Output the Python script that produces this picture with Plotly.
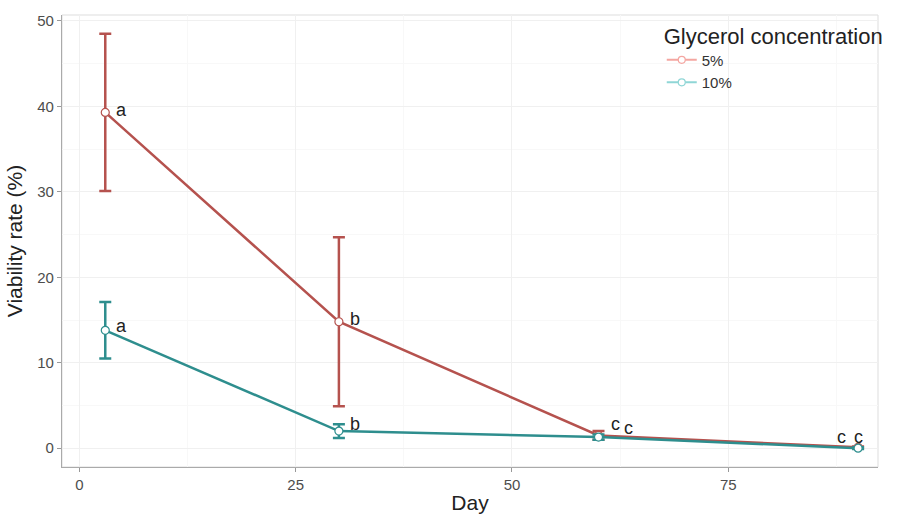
import plotly.graph_objects as go

days = [3, 30, 60, 90]
series_names = ["5%", "10%"]
viab_5 = [39.3, 14.8, 1.5, 0.1]
err_5 = [9.2, 9.9, 0.5, 0.1]
viab_10 = [13.8, 2.0, 1.3, 0.0]
err_10 = [3.3, 0.8, 0.3, 0.1]
letters_5 = ["a", "b", "c", "c"]
letters_10 = ["a", "b", "c", "c"]

col5 = "#B5524E"
col10 = "#2E8E8E"
leg5 = "#F4A6A1"
leg10 = "#8FD6D6"

fig = go.Figure()
for name, vals, errs, col in [(series_names[0], viab_5, err_5, col5), (series_names[1], viab_10, err_10, col10)]:
    fig.add_trace(go.Scatter(
        x=days, y=vals, mode="lines+markers", name=name, showlegend=False,
        line=dict(color=col, width=2.5),
        marker=dict(symbol="circle", size=8, color="white", line=dict(color=col, width=1.2)),
        error_y=dict(type="data", array=errs, visible=True, color=col, thickness=2.5, width=6),
    ))
# legend entries (lighter)
for name, col in [(series_names[0], leg5), (series_names[1], leg10)]:
    fig.add_trace(go.Scatter(
        x=[None], y=[None], mode="lines+markers", name=name,
        line=dict(color=col, width=2),
        marker=dict(symbol="circle", size=7, color="white", line=dict(color=col, width=1.2)),
    ))

shifts5 = [(16, 2), (16, 3), (17, 11), (-17, 10)]
shifts10 = [(16, 4), (16, 7), (30, 9), (0, 11)]
for vals, labs, sh in [(viab_5, letters_5, shifts5), (viab_10, letters_10, shifts10)]:
    for d, v, t, (dx, dy) in zip(days, vals, labs, sh):
        fig.add_annotation(x=d, y=v, text=t, showarrow=False, xshift=dx, yshift=dy,
                           font=dict(size=18, color="#222222", family="Liberation Sans"))

fig.update_layout(
    width=897, height=514,
    margin=dict(l=62, r=17, t=15, b=47),
    paper_bgcolor="white", plot_bgcolor="white",
    font=dict(family="Liberation Sans", color="#333333"),
    legend=dict(
        title=dict(text="Glycerol concentration", font=dict(size=22, color="#222222")),
        x=0.735, y=1.0, xanchor="left", yanchor="top",
        font=dict(size=15, color="#333333"), bgcolor="rgba(0,0,0,0)",
        tracegroupgap=0, itemwidth=30,
    ),
    xaxis=dict(
        range=[-2.0, 92.3], tickvals=[0, 25, 50, 75], ticks="outside", ticklen=4,
        tickcolor="#999999", tickfont=dict(size=15, color="#4d4d4d"),
        title=dict(text="Day", font=dict(size=21, color="#222222"), standoff=6),
        showgrid=True, gridcolor="#f0f0f0", gridwidth=1,
        minor=dict(showgrid=True, gridcolor="#f8f8f8", tickvals=[12.5, 37.5, 62.5, 87.5]),
        showline=True, linecolor="#aaaaaa", linewidth=1.2, zeroline=False,
        automargin=False,
    ),
    yaxis=dict(
        range=[-2.2, 50.7], tickvals=[0, 10, 20, 30, 40, 50], ticks="outside", ticklen=4,
        tickcolor="#999999", tickfont=dict(size=15, color="#4d4d4d"),
        title=dict(text="Viability rate (%)", font=dict(size=21, color="#222222"), standoff=8),
        showgrid=True, gridcolor="#f0f0f0", gridwidth=1,
        minor=dict(showgrid=True, gridcolor="#f8f8f8", tickvals=[5, 15, 25, 35, 45]),
        showline=True, linecolor="#aaaaaa", linewidth=1.2, zeroline=False,
        automargin=False,
    ),
)
fig.add_shape(type="rect", xref="paper", yref="paper", x0=0, y0=0, x1=1, y1=1,
              line=dict(color="#dddddd", width=1), layer="below")

fig.write_html("out.html")
